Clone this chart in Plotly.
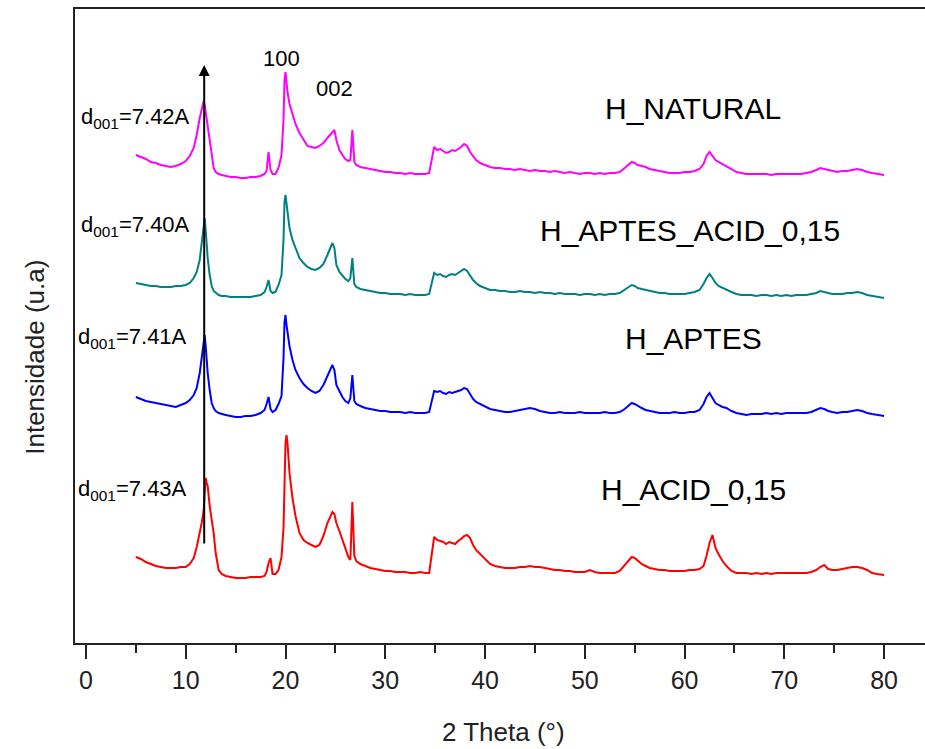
import plotly.graph_objects as go

# 2-theta sampling grid (degrees)
THETA = [
    5.0, 5.5, 6.0, 6.5, 7.0, 7.5, 8.0, 8.5, 9.0, 9.5,
    10.0, 10.4, 10.8, 11.1, 11.4, 11.6, 11.8, 11.9, 12.0, 12.1,
    12.2, 12.4, 12.6, 12.8, 13.0, 13.3, 13.6, 14.0, 14.5, 15.0,
    15.5, 16.0, 16.5, 17.0, 17.5, 17.9, 18.1, 18.3, 18.5, 18.7,
    19.0, 19.3, 19.6, 19.8, 19.9, 20.0, 20.1, 20.2, 20.4, 20.7,
    21.0, 21.4, 21.8, 22.2, 22.6, 23.0, 23.4, 23.8, 24.2, 24.5,
    24.7, 24.9, 25.1, 25.4, 25.7, 26.0, 26.3, 26.5, 26.7, 26.9,
    27.1, 27.5, 28.0, 28.5, 29.0, 29.5, 30.0, 30.5, 31.0, 31.5,
    32.0, 32.5, 33.0, 33.5, 34.0, 34.4, 34.7, 34.9, 35.2, 35.5,
    35.8, 36.1, 36.4, 36.7, 37.0, 37.3, 37.6, 37.9, 38.2, 38.5,
    38.8, 39.1, 39.5, 40.0, 40.5, 41.0, 41.5, 42.0, 42.5, 43.0,
    43.5, 44.0, 44.5, 45.0, 45.5, 46.0, 46.5, 47.0, 47.5, 48.0,
    48.5, 49.0, 49.5, 50.0, 50.5, 51.0, 51.5, 52.0, 52.5, 53.0,
    53.5, 54.0, 54.4, 54.7, 55.0, 55.3, 55.7, 56.1, 56.5, 57.0,
    57.5, 58.0, 58.5, 59.0, 59.5, 60.0, 60.5, 61.0, 61.5, 61.9,
    62.2, 62.5, 62.8, 63.1, 63.4, 63.8, 64.2, 64.7, 65.2, 65.7,
    66.2, 66.7, 67.2, 67.7, 68.2, 68.7, 69.2, 69.7, 70.2, 70.7,
    71.2, 71.7, 72.2, 72.7, 73.2, 73.6, 74.0, 74.4, 74.8, 75.3,
    75.8, 76.3, 76.8, 77.3, 77.8, 78.3, 78.8, 79.3, 79.7, 80.0,
]

H_NATURAL = [
    25, 23, 21, 18, 17, 15, 14, 13, 14, 16,
    19, 24, 32, 45, 62, 72, 79, 75, 68, 62,
    55, 40, 24, 12, 8, 6, 5, 4, 3, 3,
    2, 2, 3, 3, 4, 6, 9, 28, 10, 6,
    6, 12, 25, 60, 100, 108, 97, 88, 76, 66,
    56, 47, 40, 34, 33, 32, 34, 37, 42, 45,
    48, 50, 40, 30, 25, 21, 19, 20, 50, 18,
    15, 13, 12, 11, 10, 9, 8, 8, 7, 7,
    6, 7, 6, 6, 6, 7, 25, 33, 30, 31,
    29, 27, 28, 30, 29, 31, 33, 36, 34, 28,
    24, 20, 17, 15, 13, 12, 12, 11, 11, 10,
    11, 10, 9, 10, 9, 9, 8, 9, 8, 7,
    8, 7, 6, 7, 7, 6, 7, 6, 7, 7,
    8, 12, 16, 18, 17, 15, 14, 13, 11, 10,
    9, 8, 7, 7, 7, 8, 8, 9, 11, 16,
    24, 28, 24, 20, 18, 16, 14, 11, 8, 7,
    6, 6, 6, 6, 6, 5, 6, 6, 6, 6,
    6, 6, 7, 8, 10, 12, 11, 10, 9, 8,
    9, 9, 10, 11, 10, 8, 7, 6, 5, 5,
]

H_APTES_ACID = [
    17, 16, 15, 14, 14, 13, 13, 13, 14, 14,
    15, 17, 22, 28, 40, 55, 75, 82, 70, 55,
    42, 25, 14, 9, 7, 5, 4, 4, 3, 3,
    3, 3, 3, 4, 5, 8, 13, 20, 9, 7,
    8, 15, 25, 60, 98, 105, 95, 85, 72, 60,
    52, 42, 37, 33, 31, 30, 32, 36, 45, 53,
    57, 52, 35, 28, 24, 21, 19, 22, 42, 16,
    13, 11, 10, 9, 8, 7, 7, 6, 6, 6,
    5, 6, 5, 5, 5, 6, 20, 27, 25, 26,
    24, 23, 25, 26, 25, 27, 29, 31, 29, 24,
    20, 17, 14, 12, 10, 10, 9, 9, 8, 8,
    9, 8, 8, 7, 8, 7, 7, 6, 7, 6,
    6, 6, 5, 6, 6, 5, 6, 5, 6, 6,
    7, 10, 13, 15, 14, 12, 11, 10, 9, 8,
    7, 7, 6, 6, 6, 6, 7, 8, 10, 16,
    22, 26, 22, 17, 14, 12, 10, 8, 6, 5,
    5, 5, 4, 5, 5, 4, 5, 4, 5, 4,
    5, 5, 5, 6, 7, 9, 8, 7, 6, 6,
    6, 7, 7, 8, 7, 5, 4, 3, 2, 2,
]

H_APTES = [
    21, 19, 17, 16, 15, 14, 13, 12, 11, 13,
    15, 18, 23, 30, 45, 60, 78, 83, 72, 58,
    45, 28, 15, 10, 7, 5, 4, 3, 2, 1,
    1, 2, 2, 3, 5, 8, 14, 21, 9, 6,
    8, 14, 22, 60, 96, 103, 93, 84, 72, 58,
    48, 40, 34, 30, 27, 25, 27, 33, 42, 50,
    53, 48, 33, 27, 21, 17, 15, 20, 43, 17,
    14, 12, 10, 9, 8, 7, 7, 6, 6, 6,
    5, 6, 5, 5, 5, 6, 18, 27, 26, 27,
    25, 24, 26, 25, 26, 27, 28, 30, 29, 24,
    19, 16, 14, 11, 9, 8, 7, 6, 6, 7,
    8, 9, 10, 9, 7, 6, 5, 5, 6, 5,
    5, 5, 6, 5, 5, 5, 5, 6, 5, 5,
    6, 9, 13, 15, 14, 12, 10, 8, 7, 6,
    5, 5, 5, 6, 5, 5, 6, 6, 8, 14,
    21, 25, 20, 15, 13, 11, 10, 7, 5, 4,
    3, 4, 4, 4, 5, 4, 5, 4, 5, 5,
    5, 5, 5, 6, 8, 10, 9, 7, 6, 5,
    6, 6, 7, 8, 7, 5, 4, 3, 2, 2,
]

H_ACID = [
    21, 19, 16, 14, 12, 11, 10, 10, 10, 11,
    11, 14, 20, 31, 45, 55, 68, 85, 100, 95,
    92, 72, 58, 45, 25, 8, 4, 2, 1, 0,
    0, 0, 1, 1, 1, 2, 6, 15, 20, 4,
    4, 8, 21, 50, 110, 135, 143, 135, 105, 80,
    62, 45, 38, 35, 33, 31, 33, 42, 55, 62,
    66, 64, 55, 47, 38, 30, 21, 18, 76, 22,
    17, 14, 12, 10, 9, 8, 7, 7, 6, 6,
    6, 5, 5, 6, 5, 5, 30, 41, 38, 37,
    36, 34, 36, 35, 34, 37, 39, 42, 43, 40,
    33, 28, 24, 18, 14, 12, 11, 10, 10, 10,
    11, 11, 12, 11, 11, 10, 9, 8, 8, 7,
    7, 6, 6, 6, 8, 6, 5, 5, 5, 5,
    7, 13, 18, 21, 20, 17, 14, 12, 10, 9,
    8, 8, 7, 7, 7, 7, 8, 8, 9, 12,
    22, 35, 43, 30, 24, 17, 12, 7, 5, 5,
    5, 4, 5, 4, 5, 4, 5, 5, 5, 5,
    5, 5, 5, 6, 8, 11, 13, 9, 8, 8,
    9, 10, 11, 11, 10, 8, 5, 4, 3, 3,
]

SERIES_NAMES = ["H_NATURAL", "H_APTES_ACID_0,15", "H_APTES", "H_ACID_0,15"]
SERIES_DATA = [H_NATURAL, H_APTES_ACID, H_APTES, H_ACID]
SERIES_OFFSETS = [463, 343, 225, 65]
SERIES_COLORS = ["#FF00FF", "#008080", "#0000FF", "#FF0000"]
SERIES_LABEL_POS = [(60.85, 535), (60.55, 413), (60.85, 305), (60.85, 154)]

D001_LABELS = ["7.42", "7.40", "7.41", "7.43"]
D001_POS = [(-0.65, 525), (-0.65, 417), (-1.0, 305), (-1.0, 153)]

PEAK_LABELS = ["100", "002"]
PEAK_POS = [(19.55, 585), (24.96, 555)]

ARROW_X = 11.85
ARROW_Y0 = 98
ARROW_Y1 = 578

X_TICKS = [0, 10, 20, 30, 40, 50, 60, 70, 80]

FONT = "Liberation Sans, Arial, sans-serif"

fig = go.Figure()
for name, vals, off, col in zip(SERIES_NAMES, SERIES_DATA, SERIES_OFFSETS, SERIES_COLORS):
    fig.add_trace(go.Scatter(
        x=THETA, y=[v + off for v in vals], mode="lines", name=name,
        line=dict(color=col, width=2), showlegend=False,
    ))

annotations = []
for name, (x, y) in zip(SERIES_NAMES, SERIES_LABEL_POS):
    annotations.append(dict(x=x, y=y, xref="x", yref="y", text=name, showarrow=False,
                            font=dict(family=FONT, size=30, color="black"),
                            xanchor="center", yanchor="middle"))
for lab, (x, y) in zip(D001_LABELS, D001_POS):
    annotations.append(dict(x=x, y=y, xref="x", yref="y",
                            text="d<sub>001</sub>=" + lab + "A", showarrow=False,
                            font=dict(family=FONT, size=22, color="black"),
                            xanchor="left", yanchor="middle"))
for lab, (x, y) in zip(PEAK_LABELS, PEAK_POS):
    annotations.append(dict(x=x, y=y, xref="x", yref="y", text=lab, showarrow=False,
                            font=dict(family=FONT, size=22, color="black"),
                            xanchor="center", yanchor="middle"))
annotations.append(dict(x=ARROW_X, y=ARROW_Y1, ax=ARROW_X, ay=ARROW_Y0,
                        xref="x", yref="y", axref="x", ayref="y", text="",
                        showarrow=True, arrowhead=2, arrowsize=1.1, arrowwidth=2,
                        arrowcolor="black"))
annotations.append(dict(x=-0.047, y=0.45, xref="paper", yref="paper",
                        text="Intensidade (u.a)", textangle=-90, showarrow=False,
                        font=dict(family=FONT, size=26, color="#222222"),
                        xanchor="center", yanchor="middle"))
annotations.append(dict(x=(503 - 75) / 850, y=-0.14, xref="paper", yref="paper",
                        text="2 Theta (°)", showarrow=False,
                        font=dict(family=FONT, size=26, color="#222222"),
                        xanchor="center", yanchor="middle"))

fig.update_layout(
    width=925, height=749,
    margin=dict(l=75, r=0, t=9, b=106),
    paper_bgcolor="white", plot_bgcolor="white",
    annotations=annotations,
    xaxis=dict(
        range=[-1.1, 84.1], tickmode="array", tickvals=X_TICKS,
        ticks="outside", ticklen=14, tickwidth=2, tickcolor="#222222",
        minor=dict(dtick=5, tick0=5, ticks="outside", ticklen=8, tickwidth=2,
                   tickcolor="#222222", showgrid=False),
        showline=True, linewidth=2, linecolor="#222222", mirror=True,
        showgrid=False, zeroline=False,
        tickfont=dict(family=FONT, size=25, color="#222222"),
    ),
    yaxis=dict(
        range=[0, 634], showticklabels=False, ticks="",
        showline=True, linewidth=2, linecolor="#222222",
        showgrid=False, zeroline=False,
    ),
)

fig.write_html("out.html")
